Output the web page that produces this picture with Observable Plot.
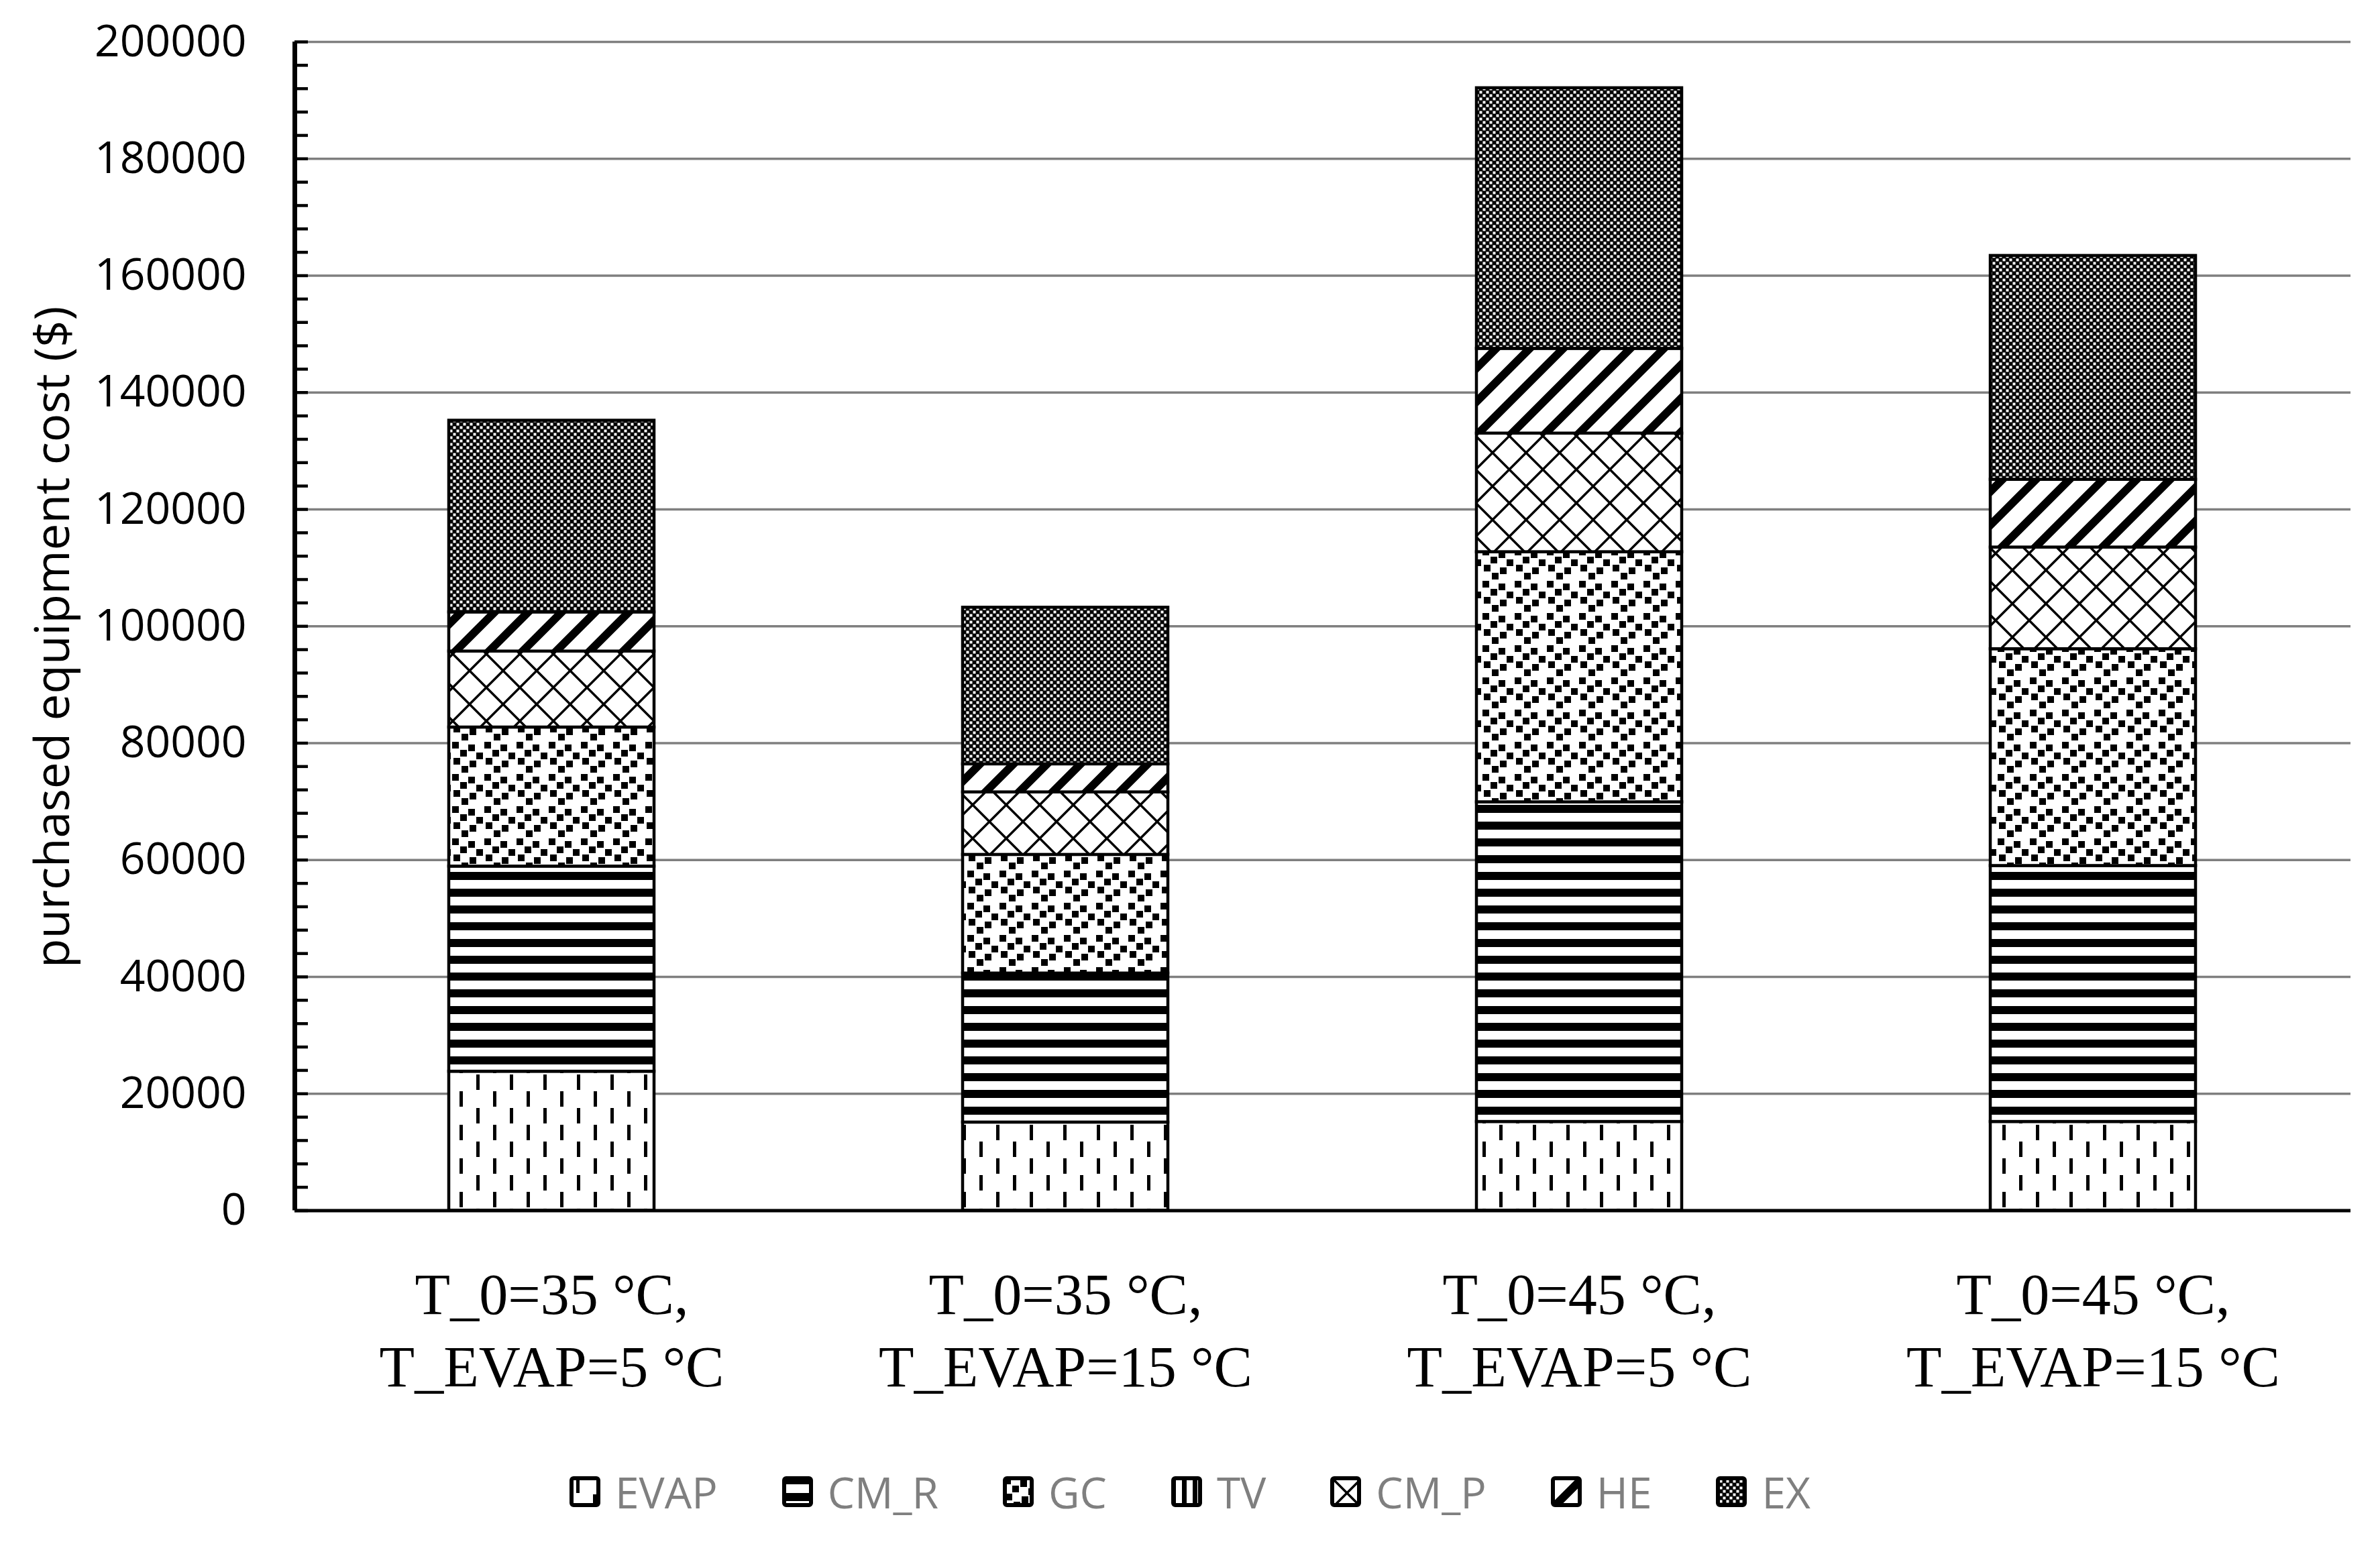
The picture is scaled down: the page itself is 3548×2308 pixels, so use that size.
<!DOCTYPE html>
<html>
<head>
<meta charset="utf-8">
<script src="https://cdn.jsdelivr.net/npm/d3@7"></script>
<script src="https://cdn.jsdelivr.net/npm/@observablehq/plot@0.6"></script>
<style>
  html, body { margin: 0; padding: 0; background: #fff; }
  #wrap { position: relative; width: 3548px; height: 2308px; background: #fff; }
  #chart svg { display: block; }
  #legend { position: absolute; left: 0; top: 2188px; width: 3548px; height: 72px;
            display: flex; justify-content: center; align-items: center;
            font-family: "Open Sans"; font-size: 64px; color: #7f7f7f; }
  .item { display: flex; align-items: center; margin: 0 48px; }
  .item svg { margin-right: 22px; display: block; }
</style>
</head>
<body>
<svg width="0" height="0" style="position:absolute">
  <defs>
    <pattern id="p0" patternUnits="userSpaceOnUse" width="50" height="50">
      <rect width="50" height="50" fill="#fff"/>
      <rect x="10" y="2" width="5" height="23" fill="#000"/>
      <rect x="35" y="27" width="5" height="23" fill="#000"/>
    </pattern>
    <pattern id="p1" patternUnits="userSpaceOnUse" width="50" height="25">
      <rect width="50" height="25" fill="#fff"/>
      <rect x="0" y="0" width="50" height="12" fill="#000"/>
    </pattern>
    <pattern id="p2" patternUnits="userSpaceOnUse" width="48" height="48">
      <rect width="48" height="48" fill="#fff"/>
      <g fill="#000">
        <rect x="2" y="2" width="10" height="10"/>
        <rect x="26" y="6" width="10" height="10"/>
        <rect x="14" y="14" width="10" height="10"/>
        <rect x="38" y="18" width="10" height="10"/>
        <rect x="4" y="26" width="10" height="10"/>
        <rect x="28" y="30" width="10" height="10"/>
        <rect x="16" y="38" width="10" height="10"/>
      </g>
    </pattern>
    <pattern id="p3" patternUnits="userSpaceOnUse" width="16" height="16">
      <rect width="16" height="16" fill="#fff"/>
      <rect x="0" y="0" width="7" height="16" fill="#000"/>
    </pattern>
    <pattern id="p4" patternUnits="userSpaceOnUse" width="50" height="50">
      <rect width="50" height="50" fill="#fff"/>
      <path d="M0,0L50,50M50,0L0,50" stroke="#000" stroke-width="3.5"/>
    </pattern>
    <pattern id="p5" patternUnits="userSpaceOnUse" width="50" height="50">
      <rect width="50" height="50" fill="#fff"/>
      <path d="M-25,25L25,-25M0,50L50,0M25,75L75,25" stroke="#000" stroke-width="12"/>
    </pattern>
    <pattern id="p6" patternUnits="userSpaceOnUse" width="10" height="10">
      <rect width="10" height="10" fill="#000"/>
      <rect x="0.5" y="0.5" width="4" height="4" fill="#fff"/>
      <rect x="5.5" y="5.5" width="4" height="4" fill="#fff"/>
    </pattern>
  </defs>
</svg>
<div id="wrap">
  <div id="chart"></div>
  <div id="legend"></div>
</div>
<script>
// ---- data ----
const components = ["EVAP", "CM_R", "GC", "TV", "CM_P", "HE", "EX"];
const scenarios = [
  "T_0=35 °C,\nT_EVAP=5 °C",
  "T_0=35 °C,\nT_EVAP=15 °C",
  "T_0=45 °C,\nT_EVAP=5 °C",
  "T_0=45 °C,\nT_EVAP=15 °C"
];
const EVAP = [23800, 15100, 15200, 15200];
const CM_R = [35100, 25500, 54700, 43800];
const GC   = [23800, 20300, 42800, 37100];
const TV   = [0, 0, 0, 0];
const CM_P = [13000, 10700, 20300, 17400];
const HE   = [6700, 4800, 14500, 11600];
const EX   = [32800, 26800, 44600, 38300];
const yTicks = [0, 20000, 40000, 60000, 80000, 100000, 120000, 140000, 160000, 180000, 200000];
const minorStep = 4000;
const yTitle = "purchased equipment cost ($)";

const seriesByName = {EVAP, CM_R, GC, TV, CM_P, HE, EX};
const data = scenarios.flatMap((s, i) =>
  components.map(c => ({scenario: s, component: c, value: seriesByName[c][i]})));
const patternFor = c => `url(#p${components.indexOf(c)})`;

// ---- layout ----
const W = 3548, H = 2130, ML = 439, MR = 44, MT = 62, MB = H - 1804.5;
const plotW = W - ML - MR;
const minorTicks = d3.range(0, 200001, minorStep);

const chart = Plot.plot({
  width: W,
  height: H,
  marginLeft: ML,
  marginRight: MR,
  marginTop: MT,
  marginBottom: MB,
  style: {fontFamily: "Open Sans", fontSize: "64px", color: "black", background: "white"},
  x: {domain: scenarios, paddingInner: 0.6, paddingOuter: 0.3, label: null},
  y: {domain: [0, 200000], label: null},
  color: {domain: components, range: components.map(patternFor)},
  marks: [
    Plot.ruleY(yTicks.filter(d => d > 0), {stroke: "#7f7f7f", strokeWidth: 3.5}),
    Plot.barY(data, {x: "scenario", y: "value", fill: "component", stroke: "black", strokeWidth: 4.5}),
    Plot.ruleY(minorTicks, {stroke: "black", strokeWidth: 4.5, insetRight: plotW - 20}),
    Plot.ruleY([0], {stroke: "black", strokeWidth: 5}),
    Plot.ruleX([0], {x: null, stroke: "black", strokeWidth: 7, dx: -plotW / 2}),
    Plot.axisY(yTicks, {tickSize: 0, tickPadding: 72, tickFormat: d => String(d),
      fontSize: 66, fontFamily: "Open Sans", fill: "black", label: null}),
    Plot.axisX({tickSize: 0, tickPadding: 78, fontSize: 86, fontFamily: "Liberation Serif",
      lineHeight: 1.25, fill: "black", label: null}),
    Plot.text([yTitle], {text: d => d, frameAnchor: "left", textAnchor: "middle", rotate: -90,
      dx: -(ML - 80), dy: 16, fontSize: 71, fontFamily: "Open Sans", fill: "black"})
  ]
});
document.getElementById("chart").appendChild(chart);

// ---- legend ----
const legend = document.getElementById("legend");
for (const c of components) {
  const item = document.createElement("div");
  item.className = "item";
  item.innerHTML = `<svg width="46" height="46"><rect x="3" y="3" width="40" height="40" rx="3" fill="${patternFor(c)}" stroke="#000" stroke-width="6"/></svg><span>${c}</span>`;
  legend.appendChild(item);
}
</script>
</body>
</html>
